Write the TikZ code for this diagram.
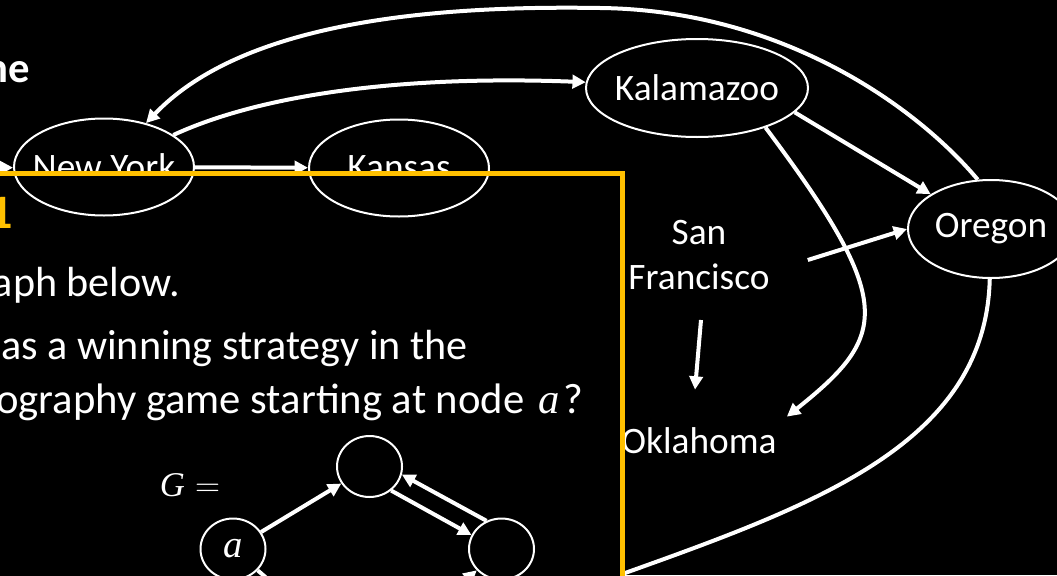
\RequirePackage{fix-cm}
\documentclass[tikz,border=0pt]{standalone}
\usepackage{fontspec}
\setmainfont{Carlito}
\newfontfamily\varfont{Liberation Serif}
\usetikzlibrary{shapes.geometric,arrows.meta}

\definecolor{slidegold}{RGB}{255,192,0}
\newcommand{\var}[1]{{\varfont\itshape #1}}

\tikzset{
  city/.style={ellipse, draw=white, line width=1.5pt, text=white, inner sep=0pt,
    font=\fontsize{28}{33.75}\selectfont},
  town/.style={text=white, inner sep=0pt, align=center, font=\fontsize{28}{33.75}\selectfont},
  road/.style={draw=white, line width=3pt, -{Triangle[length=10pt,width=10pt]}},
  vert/.style={ellipse, draw=white, line width=1.5pt, text=white, inner sep=0pt,
    minimum width=48.75pt, minimum height=45.75pt, font=\fontsize{29}{32}\selectfont},
  bodytext/.style={text=white, inner sep=0pt, anchor=base east, font=\fontsize{31.6}{37}\selectfont},
}

\begin{document}
\begin{tikzpicture}[x=0.75pt,y=0.75pt,yscale=-1,xscale=1]
\useasboundingbox (0,0) rectangle (1057,575);
\fill[black] (0,0) rectangle (1057,575);

% title
\node[text=white, font=\bfseries\fontsize{32}{38}\selectfont, inner sep=0pt, anchor=base east] (title) at (30,82) {The};

% cities
\node[city, draw=none, minimum width=135pt, minimum height=72.75pt] (ny) at (104,167) {\makebox[0pt]{New York}};
\node[city, draw=none, minimum width=135pt, minimum height=72.75pt] (kansas) at (399,168) {\makebox[0pt]{Kansas}};
\node[city, minimum width=166.5pt, minimum height=73.5pt] (kal) at (697,88) {\makebox[0pt]{Kalamazoo}};
\node[city, minimum width=124.5pt, minimum height=73.5pt] (ore) at (991,229) {\makebox[0pt]{Oregon}};
\node[town] (sf) at (699,255) {San\\Francisco};
\node[town] (okla) at (699,441) {Oklahoma};
\coordinate (offleft) at (-40,168);
\coordinate (offbottom) at (523,610);

% moves
\draw[road] (offleft) -- (ny);
\draw[road] (ny) -- (kansas);
\draw[road] (ny) .. controls (260,95) and (400,75) .. (kal.177);
\draw[road] (ore.105) .. controls (915,105) and (780,10) .. (600,8) .. controls (420,5) and (240,25) .. (ny);
\draw[road] (kal.-14) -- (ore.150);
\draw[road] (kal.-30) .. controls (897,303) and (888,336) .. ([shift={(10,-11)}]okla.north east);
\draw[road] ([shift={(38,5)}]sf.east) -- (ore.west);
\draw[road] ([shift={(2,30)}]sf.south) -- ([shift={(-4,-38)}]okla.north);
\draw[road,-] (ore) .. controls (985,470) and (757,522) .. (offbottom);

% question panel
\fill[black] (-20,173) rectangle (622,620);
\draw[white, line width=1.5pt] (ny.center) ellipse [x radius=67.5pt, y radius=36.375pt];
\draw[white, line width=1.5pt] (kansas.center) ellipse [x radius=67.5pt, y radius=36.375pt];
\draw[slidegold, line width=3.75pt] (-20,173) -| (622,620);

\node[text=slidegold, font=\bfseries\fontsize{36}{40}\selectfont, inner sep=0pt, anchor=base west] (qnum) at (-12,228) {1};
\node[bodytext] (line1) at (180,296) {graph below.};
\node[bodytext] (line2) at (468,359) {has a winning strategy in the};
\node[bodytext, font=\fontsize{32}{37}\selectfont] (line3) at (584,413) {geography game starting at node\hspace{0.1em} \var{a}\hspace{0.1em}?};

% small graph
\node[text=white, font=\fontsize{26}{30}\selectfont] (geq) at (190,485) {\var{G}\hspace{0.3em}$=$};
\node[vert] (gtop) at (369.5,466.5) {};
\node[vert] (ga) at (233,549) {\var{a}};
\node[vert] (gright) at (501.5,549) {};
\coordinate (gbottom) at (367,665);
\draw[road] (ga) -- (gtop);
\draw[road] (gtop.-48) -- (gright.155);
\draw[road] (gright.118) -- (gtop.-14);
\draw[road] (ga) -- (gbottom);
\draw[road] (gbottom) -- (gright);
\end{tikzpicture}
\end{document}
